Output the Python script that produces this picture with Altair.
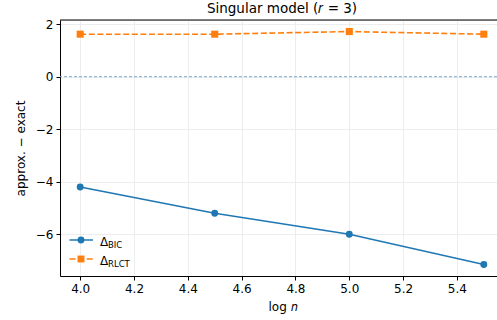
import altair as alt
import pandas as pd

# ---- data ----
logn = [4.0, 4.5, 5.0, 5.5]
delta_bic = [-4.2, -5.2, -6.0, -7.15]
delta_rlct = [1.62, 1.62, 1.72, 1.62]
x_ticks = [4.0, 4.2, 4.4, 4.6, 4.8, 5.0, 5.2, 5.4]
y_ticks = [-6, -4, -2, 0, 2]
legend_labels = ["BIC", "RLCT"]
title_text = "Singular model (𝑟 = 3)"

df = pd.DataFrame({"logn": logn, "bic": delta_bic, "rlct": delta_rlct})

W, H = 437, 256
FONT = "DejaVu Sans"
C0, C1 = "#1f77b4", "#ff7f0e"

xs = alt.Scale(domain=[3.925, 5.549], nice=False, zero=False)
ys = alt.Scale(domain=[-7.59, 2.16], nice=False, zero=False)

xaxis = alt.Axis(values=x_ticks, format=".1f", title="log 𝑛", grid=True,
                 gridColor="#e8e8e8", gridWidth=0.8, domainColor="black",
                 tickColor="black", tickSize=4, labelFontSize=12, labelColor="black",
                 labelFont=FONT, titleFont=FONT, titleFontSize=12,
                 titleFontWeight="normal", titleColor="black", labelPadding=3,
                 titlePadding=7, titleX=222, titleAlign="center")
yaxis = alt.Axis(values=y_ticks, format="d", title="approx. − exact", grid=True,
                 gridColor="#e8e8e8", gridWidth=0.8, domainColor="black",
                 tickColor="black", tickSize=4, labelFontSize=12, labelColor="black",
                 labelFont=FONT, titleFont=FONT, titleFontSize=12,
                 titleFontWeight="normal", titleColor="black", labelPadding=3,
                 titlePadding=8)

base = alt.Chart(df)

bic_line = base.mark_line(color=C0, strokeWidth=1.6).encode(
    x=alt.X("logn:Q", scale=xs, axis=xaxis),
    y=alt.Y("bic:Q", scale=ys, axis=yaxis),
)
bic_pts = base.mark_point(color=C0, filled=True, opacity=1, shape="circle", size=48).encode(
    x=alt.X("logn:Q", scale=xs), y=alt.Y("bic:Q", scale=ys))

rlct_line = base.mark_line(color=C1, strokeWidth=1.6, strokeDash=[6, 2.6]).encode(
    x=alt.X("logn:Q", scale=xs), y=alt.Y("rlct:Q", scale=ys))
rlct_pts = base.mark_point(color=C1, filled=True, opacity=1, shape="square", size=50).encode(
    x=alt.X("logn:Q", scale=xs), y=alt.Y("rlct:Q", scale=ys))

zero = alt.Chart(pd.DataFrame({"z": [0]})).mark_rule(
    color="#7fa8d0", strokeWidth=1, strokeDash=[3, 2]).encode(
    y=alt.Y("z:Q", scale=ys))

top_spine = alt.Chart(pd.DataFrame({"a": [0]})).mark_rule(color="black", strokeWidth=1).encode(
    x=alt.value(0), x2=alt.value(W + 5), y=alt.value(0))

title = alt.Chart(pd.DataFrame({"t": [title_text]})).mark_text(
    font=FONT, fontSize=13.5, align="center", baseline="alphabetic", color="black").encode(
    x=alt.value(222), y=alt.value(-7), text="t:N")

# legend (manual, lower left inside the axes)
leg_y = [220, 239]
layers = []
for lab, yy, col, shp, dash in [(legend_labels[0], leg_y[0], C0, "circle", [1, 0]),
                                (legend_labels[1], leg_y[1], C1, "square", [6, 2.6])]:
    d = alt.Chart(pd.DataFrame({"lab": [lab]}))
    layers.append(d.mark_rule(color=col, strokeWidth=1.6, strokeDash=dash).encode(
        x=alt.value(9.5), x2=alt.value(33), y=alt.value(yy)))
    layers.append(d.mark_point(color=col, filled=True, opacity=1, shape=shp, size=48).encode(
        x=alt.value(21), y=alt.value(yy)))
    layers.append(d.mark_text(text="Δ", font=FONT, fontSize=12, align="left",
                              baseline="alphabetic", color="black").encode(
        x=alt.value(40), y=alt.value(yy + 6)))
    layers.append(d.mark_text(font=FONT, fontSize=8.5, align="left",
                              baseline="alphabetic", color="black").encode(
        x=alt.value(48), y=alt.value(yy + 7.5), text="lab:N"))

chart = alt.layer(zero, bic_line, bic_pts, rlct_line, rlct_pts, top_spine, title, *layers).properties(
    width=W, height=H,
    autosize=alt.AutoSizeParams(type="none"),
    padding={"left": 60, "top": 20, "right": 0, "bottom": 44},
).configure_view(stroke=None).configure(background="white")

chart.save("out.html", embed_options={"renderer": "svg", "actions": False})
